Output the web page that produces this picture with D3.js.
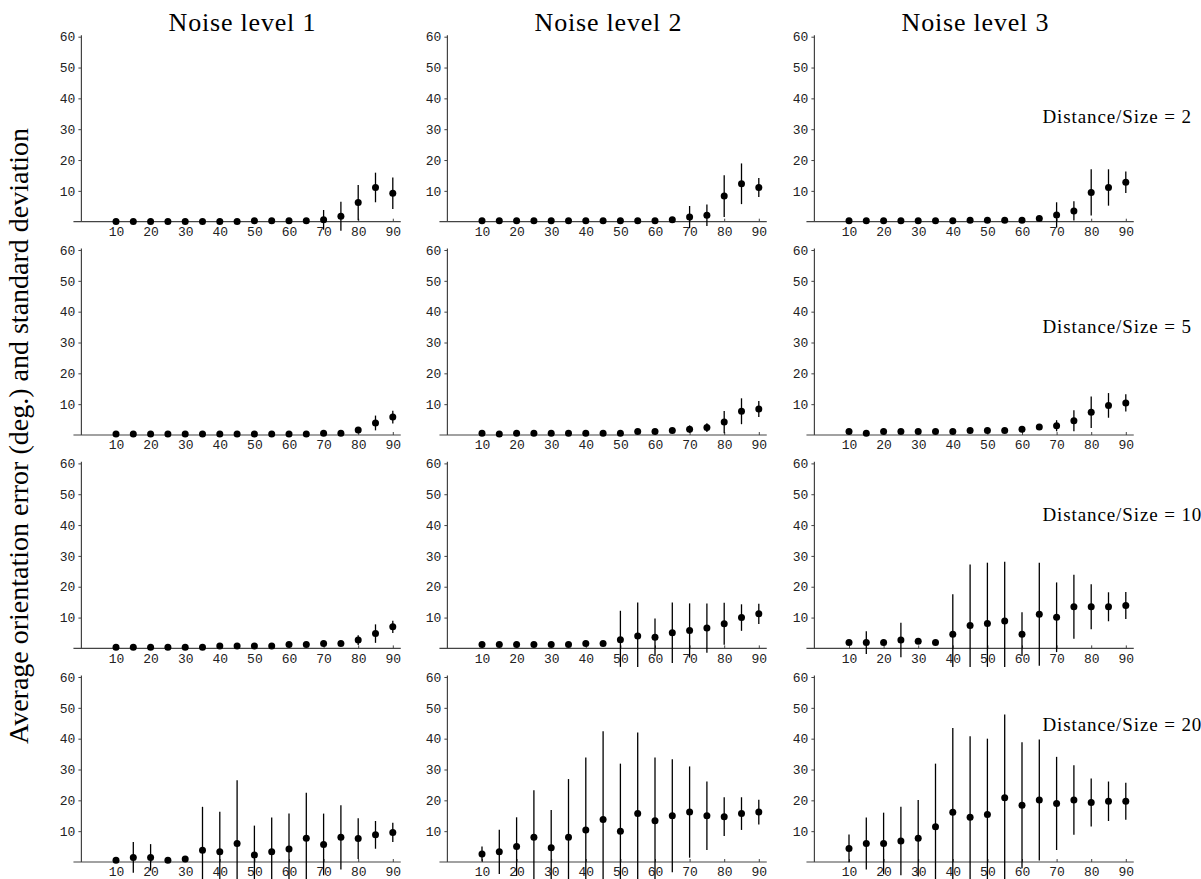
<!DOCTYPE html>
<html>
<head>
<meta charset="utf-8">
<script src="https://cdn.jsdelivr.net/npm/d3@7"></script>
<style>
  body { margin: 0; background: #fff; }
  .tick text { font-family: "Liberation Mono", "Courier New", monospace; font-size: 13px; fill: #222; }
  .tick line { stroke: #444; }
  .serif { font-family: "Liberation Serif", "Times New Roman", serif; fill: #000; }
</style>
</head>
<body>
<div id="chart"></div>
<script>
// angles on the x axis of every panel
var angles = [10, 15, 20, 25, 30, 35, 40, 45, 50, 55, 60, 65, 70, 75, 80, 85, 90];
var noiseLevels = ["Noise level 1", "Noise level 2", "Noise level 3"];
var ratios = [2, 5, 10, 20];
var xTicks = [10, 20, 30, 40, 50, 60, 70, 80, 90];
var yTicks = [10, 20, 30, 40, 50, 60];

// mean error, one row per noise level
var meanD2 = [
  [0.1, 0.1, 0.1, 0.1, 0.1, 0.1, 0.1, 0.1, 0.3, 0.3, 0.3, 0.3, 0.6, 1.8, 6.2, 11.1, 9.2],
  [0.3, 0.3, 0.3, 0.3, 0.3, 0.3, 0.3, 0.3, 0.3, 0.3, 0.3, 0.6, 1.5, 2.1, 8.3, 12.3, 11.1],
  [0.3, 0.3, 0.3, 0.3, 0.3, 0.3, 0.3, 0.5, 0.5, 0.5, 0.5, 1.0, 2.2, 3.5, 9.5, 11.1, 12.8]
];
var sdD2 = [
  [0.1, 0.1, 0.1, 0.1, 0.1, 0.1, 0.1, 0.1, 0.2, 0.2, 0.2, 0.3, 3.2, 4.7, 5.7, 4.8, 5.1],
  [0.2, 0.2, 0.2, 0.2, 0.2, 0.2, 0.2, 0.2, 0.2, 0.2, 0.2, 0.4, 3.6, 3.5, 6.8, 6.6, 3.1],
  [0.2, 0.2, 0.2, 0.2, 0.2, 0.2, 0.2, 0.3, 0.3, 0.3, 0.3, 0.5, 4.1, 3.1, 7.5, 5.9, 3.5]
];
var meanD5 = [
  [0.3, 0.3, 0.3, 0.3, 0.3, 0.3, 0.3, 0.3, 0.3, 0.3, 0.3, 0.3, 0.6, 0.6, 1.6, 3.9, 5.8],
  [0.6, 0.3, 0.6, 0.6, 0.6, 0.6, 0.6, 0.6, 0.6, 1.1, 1.1, 1.5, 1.9, 2.4, 4.2, 7.7, 8.4],
  [1.1, 0.6, 1.1, 1.1, 1.1, 1.1, 1.1, 1.5, 1.5, 1.5, 1.9, 2.6, 3.0, 4.6, 7.4, 9.6, 10.4]
];
var sdD5 = [
  [0.2, 0.2, 0.2, 0.2, 0.2, 0.2, 0.2, 0.2, 0.2, 0.2, 0.2, 0.2, 0.3, 0.3, 1.0, 2.4, 2.1],
  [0.3, 0.2, 0.3, 0.3, 0.3, 0.3, 0.3, 0.3, 0.3, 0.4, 0.5, 0.6, 1.2, 1.4, 3.6, 4.2, 2.6],
  [0.4, 0.3, 0.4, 0.4, 0.4, 0.4, 0.5, 0.5, 0.5, 0.5, 1.0, 1.0, 1.8, 3.4, 5.1, 4.0, 2.8]
];
var meanD10 = [
  [0.4, 0.4, 0.4, 0.4, 0.4, 0.4, 0.75, 0.75, 0.75, 0.75, 1.3, 1.3, 1.6, 1.6, 2.7, 4.8, 7.0],
  [1.3, 1.3, 1.3, 1.3, 1.3, 1.3, 1.6, 1.6, 2.8, 4.0, 3.6, 5.1, 5.8, 6.6, 8.0, 10.0, 11.2],
  [1.9, 1.9, 1.9, 2.7, 2.3, 1.9, 4.6, 7.4, 8.1, 8.9, 4.6, 11.1, 10.1, 13.5, 13.5, 13.5, 13.9]
];
var sdD10 = [
  [0.2, 0.2, 0.2, 0.2, 0.2, 0.2, 0.3, 0.3, 0.3, 0.3, 0.4, 0.4, 0.8, 0.4, 1.6, 3.0, 2.0],
  [0.4, 0.4, 0.5, 0.4, 0.4, 0.4, 0.8, 0.5, 9.4, 10.9, 6.1, 9.8, 8.8, 8.0, 6.8, 4.3, 3.3],
  [0.6, 3.7, 0.8, 5.6, 0.8, 0.7, 13.0, 19.8, 19.7, 19.2, 7.1, 16.7, 11.3, 10.4, 7.3, 4.7, 4.4]
];
var meanD20 = [
  [0.6, 1.5, 1.5, 0.6, 1.0, 3.8, 3.3, 6.0, 2.3, 3.3, 4.2, 7.7, 5.7, 8.0, 7.6, 8.8, 9.6],
  [2.6, 3.3, 5.0, 8.0, 4.6, 8.0, 10.4, 13.8, 10.0, 15.7, 13.4, 15.0, 16.2, 15.0, 14.7, 15.7, 16.2],
  [4.4, 6.0, 6.0, 6.8, 7.7, 11.4, 16.1, 14.5, 15.4, 20.8, 18.4, 20.1, 19.0, 20.1, 19.3, 19.7, 19.7]
];
var sdD20 = [
  [0.4, 5.0, 4.3, 0.4, 0.8, 14.1, 13.0, 20.5, 9.5, 11.1, 11.5, 14.8, 10.0, 10.4, 6.6, 4.5, 3.1],
  [2.4, 7.2, 9.5, 15.3, 12.3, 18.9, 23.5, 28.6, 21.9, 26.3, 20.5, 18.3, 14.8, 11.1, 6.3, 5.3, 4.0],
  [4.5, 8.4, 10.0, 11.1, 12.4, 20.5, 27.4, 26.3, 24.6, 27.0, 20.4, 19.6, 15.1, 11.3, 7.8, 6.4, 6.0]
];

var means = [meanD2, meanD5, meanD10, meanD20];
var sds = [sdD2, sdD5, sdD10, sdD20];

// layout
var width = 1201, height = 879;
var colX = [81.4, 447.4, 814.4];        // x position of angle 0 in each column
var rowY = [221.7, 435, 648.4, 862];    // y position of error 0 in each row
var panelW = 90 * 3.46, panelH = 185;
var labelDy = [99, 102, 127, 131];      // ratio label baseline above the zero line
var yMin = -6;                          // bars are cut at the bottom of the plot range

var svg = d3.select("#chart")
    .append("svg")
    .attr("width", width)
    .attr("height", height);

// y axis title
svg.append("text")
    .attr("class", "serif")
    .attr("transform", "translate(28,436) rotate(-90)")
    .attr("text-anchor", "middle")
    .style("font-size", "28px")
    .text("Average orientation error (deg.) and standard deviation");

// column titles
noiseLevels.forEach(function (t, c) {
    svg.append("text")
        .attr("class", "serif")
        .attr("x", colX[c] + 161)
        .attr("y", 30.5)
        .attr("text-anchor", "middle")
        .style("font-size", "26px")
        .style("letter-spacing", "0.8px")
        .text(t);
});

ratios.forEach(function (r, row) {
    noiseLevels.forEach(function (t, col) {
        drawPanel(row, col);
    });

    svg.append("text")
        .attr("class", "serif")
        .attr("x", colX[2] + 228)
        .attr("y", rowY[row] - labelDy[row])
        .style("font-size", "19px")
        .style("letter-spacing", "0.9px")
        .text("Distance/Size = " + r);
});

function drawPanel(row, col) {
    var x = d3.scaleLinear()
        .domain([0, 90])
        .range([colX[col], colX[col] + panelW]);
    var y = d3.scaleLinear()
        .domain([0, 60])
        .range([rowY[row], rowY[row] - panelH]);

    var g = svg.append("g");

    // axis lines
    g.append("line")
        .attr("x1", x(-2.3)).attr("x2", x(92.3))
        .attr("y1", y(0)).attr("y2", y(0))
        .attr("stroke", "#444").attr("stroke-width", 1.2);
    g.append("line")
        .attr("x1", x(0)).attr("x2", x(0))
        .attr("y1", y(0)).attr("y2", y(60.5))
        .attr("stroke", "#444").attr("stroke-width", 1.2);

    var xAxis = g.append("g")
        .attr("transform", "translate(0," + y(0) + ")")
        .call(d3.axisBottom(x).tickValues(xTicks).tickSizeInner(-3).tickSizeOuter(0).tickPadding(5));
    xAxis.select(".domain").remove();

    var yAxis = g.append("g")
        .attr("transform", "translate(" + x(0) + ",0)")
        .call(d3.axisLeft(y).tickValues(yTicks).tickSizeInner(3).tickSizeOuter(0).tickPadding(3));
    yAxis.select(".domain").remove();

    var pts = angles.map(function (a, i) {
        return { a: a, m: means[row][col][i], s: sds[row][col][i] };
    });

    // error bars
    g.selectAll(".bar")
        .data(pts)
        .enter().append("line")
        .attr("class", "bar")
        .attr("x1", function (d) { return x(d.a); })
        .attr("x2", function (d) { return x(d.a); })
        .attr("y1", function (d) { return y(Math.max(d.m - d.s, yMin)); })
        .attr("y2", function (d) { return y(d.m + d.s); })
        .attr("stroke", "#000")
        .attr("stroke-width", 1.3);

    // mean points
    g.selectAll(".dot")
        .data(pts)
        .enter().append("circle")
        .attr("class", "dot")
        .attr("cx", function (d) { return x(d.a); })
        .attr("cy", function (d) { return y(d.m); })
        .attr("r", 3.5)
        .attr("fill", "#000");
}
</script>
</body>
</html>
